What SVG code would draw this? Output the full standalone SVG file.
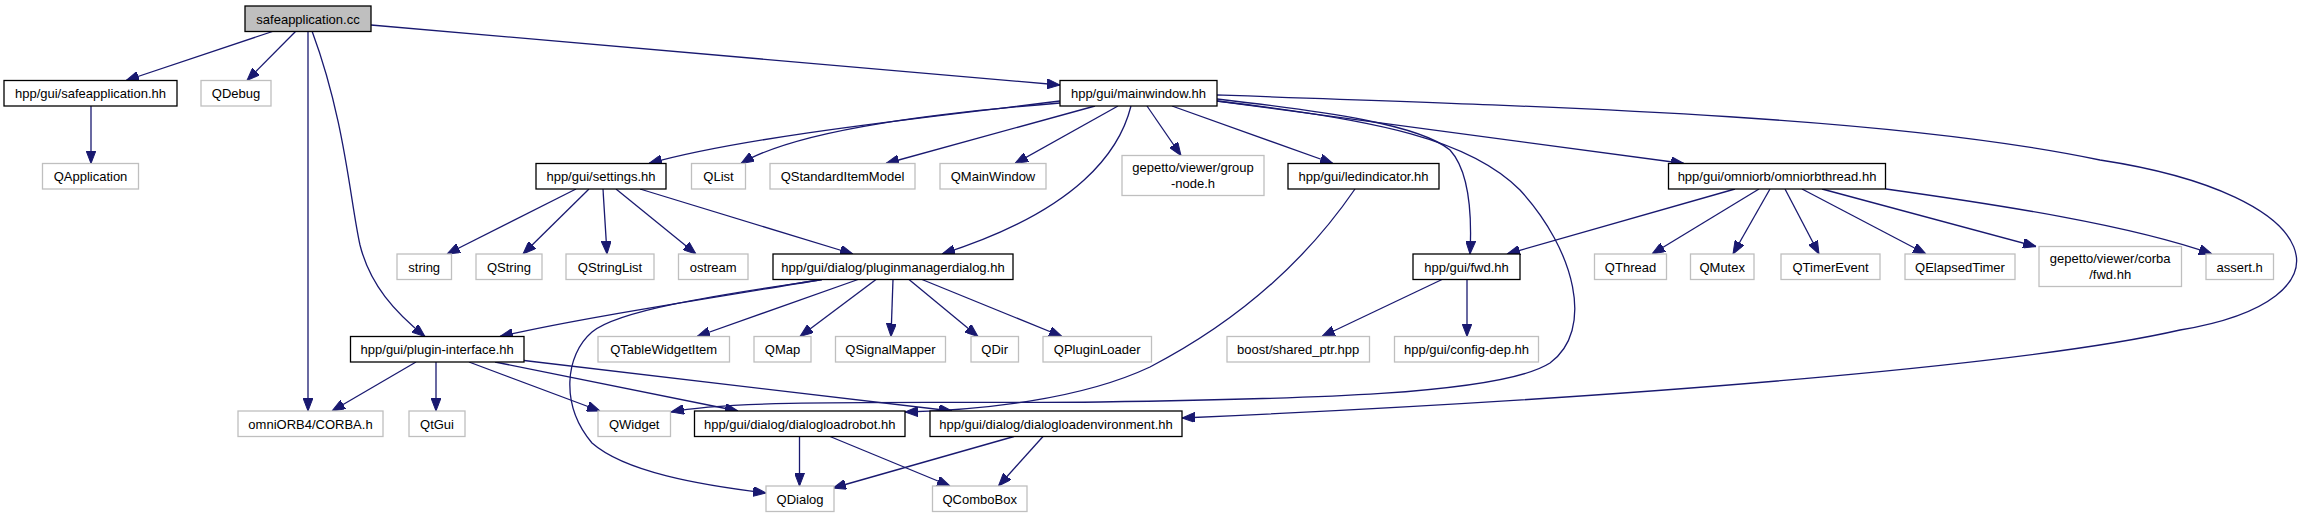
<svg xmlns="http://www.w3.org/2000/svg" width="2307" height="517" viewBox="0 0 2307 517">
<defs>
<style>
.b rect{fill:#fff;stroke:#000;stroke-width:1.3}
.g rect{fill:#fff;stroke:#bfbfbf;stroke-width:1.3}
.r rect{fill:#bfbfbf;stroke:#000;stroke-width:1.3}
text{font-family:"Liberation Sans",Arial,Helvetica,sans-serif;font-size:13px;fill:#000;text-anchor:middle}
#edges path{fill:none;stroke:#191970;stroke-width:1.3;marker-end:url(#ah)}
</style>
<marker id="ah" viewBox="0 0 13 10" refX="13" refY="5" markerWidth="13" markerHeight="10" markerUnits="userSpaceOnUse" orient="auto">
<path d="M0,0 L13,5 L0,10 z" fill="#191970" stroke="#191970" stroke-width="1"/>
</marker>
</defs>
<rect width="2307" height="517" fill="#fff"/>
<g id="edges">
<path d="M274,31 L126,80.5"/>
<path d="M296,31 L247,80.5"/>
<path d="M308,31 L308,411"/>
<path d="M312,31 C345,120 350,200 360,245 C370,285 395,312 425,336.5"/>
<path d="M371,25 L1060,85"/>
<path d="M91,106 L91,163.5"/>
<path d="M1060,101 C950,115 750,135 649,163.5"/>
<path d="M1060,103 C950,112 800,128 741,163.5"/>
<path d="M1095,106 L886,163.5"/>
<path d="M1118,106 L1015,163.5"/>
<path d="M1147,106 L1181,155.5"/>
<path d="M1172,106 L1333,163.5"/>
<path d="M1217,101 L1684,163.5"/>
<path d="M1131,106 C1120,150 1080,210 942,254"/>
<path d="M1217,99 C1330,112 1420,125 1450,150 C1470,172 1472,215 1470,254"/>
<path d="M1217,101 C1380,120 1470,140 1520,190 C1575,250 1595,330 1550,363 C1500,395 1300,399 1100,402 C950,404 740,398 671,412"/>
<path d="M1217,95 C1600,108 1900,118 2100,160 C2330,195 2360,300 2180,330 C2050,360 1700,395 1182,418"/>
<path d="M1355,189 C1320,240 1260,310 1150,367 C1080,400 980,410 905,412"/>
<path d="M576,189 L447,254"/>
<path d="M589,189 L523,254"/>
<path d="M603,189 L607,254"/>
<path d="M616,189 L696,254"/>
<path d="M640,189 L853,254"/>
<path d="M822,279.5 C700,300 580,318 500,336.5"/>
<path d="M822,279.5 C740,292 620,308 592,332 C565,355 560,405 592,443 C625,472 700,485 766,493"/>
<path d="M858,279.5 L697,336.5"/>
<path d="M876,279.5 L800,336.5"/>
<path d="M893,279.5 L891,336.5"/>
<path d="M909,279.5 L978,336.5"/>
<path d="M922,279.5 L1062,336.5"/>
<path d="M1442,279.5 L1322,336.5"/>
<path d="M1467,279.5 L1467,336.5"/>
<path d="M1735,189 L1507,254"/>
<path d="M1759,189 L1652,254"/>
<path d="M1770,189 L1733,254"/>
<path d="M1785,189 L1819,254"/>
<path d="M1802,189 L1926,254"/>
<path d="M1822,189 L2036,246.5"/>
<path d="M1886,189 C2000,205 2130,225 2212,254"/>
<path d="M416,362 L332,411"/>
<path d="M436,362 L436,411"/>
<path d="M469,362 L600,411"/>
<path d="M495,362 L738,411"/>
<path d="M524,360.5 L952,411"/>
<path d="M799.5,436.5 L799.5,486"/>
<path d="M830,436.5 L950,486"/>
<path d="M1014,436.5 L833,488"/>
<path d="M1043,436.5 L998.5,486"/>
</g>
<g id="n_root" class="r"><rect x="245" y="6" width="126" height="25.5"/><text x="308" y="23.5">safeapplication.cc</text></g>
<g id="n_safeapp_hh" class="b"><rect x="4" y="80.5" width="173" height="25.5"/><text x="90.5" y="98">hpp/gui/safeapplication.hh</text></g>
<g id="n_qdebug" class="g"><rect x="201" y="80.5" width="70" height="25.5"/><text x="236" y="98">QDebug</text></g>
<g id="n_mainwindow" class="b"><rect x="1060" y="80.5" width="157" height="25.5"/><text x="1138.5" y="98">hpp/gui/mainwindow.hh</text></g>
<g id="n_qapplication" class="g"><rect x="42.5" y="163.5" width="96" height="25.5"/><text x="90.5" y="181">QApplication</text></g>
<g id="n_settings" class="b"><rect x="536" y="163.5" width="130" height="25.5"/><text x="601" y="181">hpp/gui/settings.hh</text></g>
<g id="n_qlist" class="g"><rect x="691.5" y="163.5" width="54" height="25.5"/><text x="718.5" y="181">QList</text></g>
<g id="n_qsim" class="g"><rect x="770" y="163.5" width="145" height="25.5"/><text x="842.5" y="181">QStandardItemModel</text></g>
<g id="n_qmainwindow" class="g"><rect x="940" y="163.5" width="106" height="25.5"/><text x="993" y="181">QMainWindow</text></g>
<g id="n_groupnode" class="g"><rect x="1122" y="155.5" width="142" height="40"/><text x="1193" y="172">gepetto/viewer/group</text><text x="1193" y="188">-node.h</text></g>
<g id="n_led" class="b"><rect x="1288" y="163.5" width="151" height="25.5"/><text x="1363.5" y="181">hpp/gui/ledindicator.hh</text></g>
<g id="n_omniorbthread" class="b"><rect x="1668.5" y="163.5" width="217" height="25.5"/><text x="1777" y="181">hpp/gui/omniorb/omniorbthread.hh</text></g>
<g id="n_string" class="g"><rect x="397" y="254" width="54.5" height="25.5"/><text x="424.2" y="271.5">string</text></g>
<g id="n_qstring" class="g"><rect x="476" y="254" width="66" height="25.5"/><text x="509" y="271.5">QString</text></g>
<g id="n_qstringlist" class="g"><rect x="566" y="254" width="88" height="25.5"/><text x="610" y="271.5">QStringList</text></g>
<g id="n_ostream" class="g"><rect x="678.5" y="254" width="69.5" height="25.5"/><text x="713.2" y="271.5">ostream</text></g>
<g id="n_pm" class="b"><rect x="773" y="254" width="240" height="25.5"/><text x="893" y="271.5">hpp/gui/dialog/pluginmanagerdialog.hh</text></g>
<g id="n_fwd" class="b"><rect x="1413" y="254" width="107" height="25.5"/><text x="1466.5" y="271.5">hpp/gui/fwd.hh</text></g>
<g id="n_qthread" class="g"><rect x="1594.5" y="254" width="72" height="25.5"/><text x="1630.5" y="271.5">QThread</text></g>
<g id="n_qmutex" class="g"><rect x="1690.5" y="254" width="63.5" height="25.5"/><text x="1722.2" y="271.5">QMutex</text></g>
<g id="n_qtimerevent" class="g"><rect x="1781" y="254" width="99" height="25.5"/><text x="1830.5" y="271.5">QTimerEvent</text></g>
<g id="n_qelapsed" class="g"><rect x="1905" y="254" width="110" height="25.5"/><text x="1960" y="271.5">QElapsedTimer</text></g>
<g id="n_corbafwd" class="g"><rect x="2039" y="246.5" width="142.5" height="40"/><text x="2110.2" y="263">gepetto/viewer/corba</text><text x="2110.2" y="279">/fwd.hh</text></g>
<g id="n_assert" class="g"><rect x="2206" y="254" width="67.5" height="25.5"/><text x="2239.7" y="271.5">assert.h</text></g>
<g id="n_plugin" class="b"><rect x="350.5" y="336.5" width="173.5" height="25.5"/><text x="437.2" y="354">hpp/gui/plugin-interface.hh</text></g>
<g id="n_qtwi" class="g"><rect x="598" y="336.5" width="131.5" height="25.5"/><text x="663.7" y="354">QTableWidgetItem</text></g>
<g id="n_qmap" class="g"><rect x="754" y="336.5" width="57" height="25.5"/><text x="782.5" y="354">QMap</text></g>
<g id="n_qsm" class="g"><rect x="835.5" y="336.5" width="110" height="25.5"/><text x="890.5" y="354">QSignalMapper</text></g>
<g id="n_qdir" class="g"><rect x="971" y="336.5" width="47.5" height="25.5"/><text x="994.7" y="354">QDir</text></g>
<g id="n_qpl" class="g"><rect x="1043" y="336.5" width="108.5" height="25.5"/><text x="1097.2" y="354">QPluginLoader</text></g>
<g id="n_boost" class="g"><rect x="1227" y="336.5" width="142.5" height="25.5"/><text x="1298.2" y="354">boost/shared_ptr.hpp</text></g>
<g id="n_configdep" class="g"><rect x="1394.5" y="336.5" width="144" height="25.5"/><text x="1466.5" y="354">hpp/gui/config-dep.hh</text></g>
<g id="n_corba" class="g"><rect x="238" y="411" width="145" height="25.5"/><text x="310.5" y="428.5">omniORB4/CORBA.h</text></g>
<g id="n_qtgui" class="g"><rect x="409" y="411" width="56" height="25.5"/><text x="437" y="428.5">QtGui</text></g>
<g id="n_qwidget" class="g"><rect x="598" y="411" width="72.5" height="25.5"/><text x="634.2" y="428.5">QWidget</text></g>
<g id="n_dlr" class="b"><rect x="694.5" y="411" width="210.5" height="25.5"/><text x="799.7" y="428.5">hpp/gui/dialog/dialogloadrobot.hh</text></g>
<g id="n_dle" class="b"><rect x="930" y="411" width="252" height="25.5"/><text x="1056" y="428.5">hpp/gui/dialog/dialogloadenvironment.hh</text></g>
<g id="n_qdialog" class="g"><rect x="766" y="486" width="68" height="25.5"/><text x="800" y="503.5">QDialog</text></g>
<g id="n_qcombobox" class="g"><rect x="932.5" y="486" width="94.5" height="25.5"/><text x="979.7" y="503.5">QComboBox</text></g>
</svg>
